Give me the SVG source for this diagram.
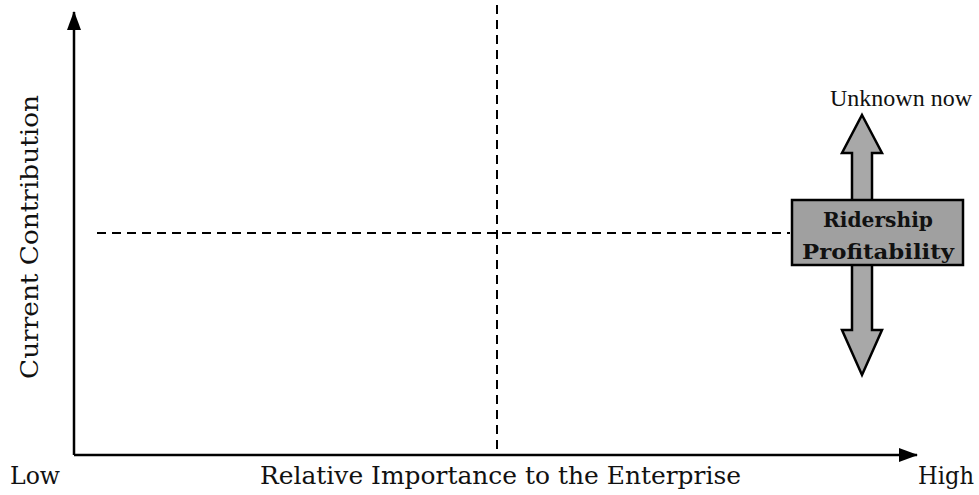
<svg xmlns="http://www.w3.org/2000/svg" width="979" height="495" viewBox="0 0 979 495">
<defs>
<style>
.lbl{font-family:"DejaVu Serif","Liberation Serif",serif;font-size:24px;fill:#111}
.box{font-family:"DejaVu Serif","Liberation Serif",serif;font-size:20px;font-weight:bold;fill:#111}
.axis{stroke:#000;stroke-width:2.5;fill:none}
.dash{stroke:#000;stroke-width:2;stroke-dasharray:9,6;fill:none}
</style>
<marker id="ah" markerWidth="20" markerHeight="16" refX="18" refY="8" orient="auto" markerUnits="userSpaceOnUse" viewBox="0 0 20 16">
<path d="M0,1 L19,8 L0,15 Z" fill="#000"/>
</marker>
</defs>
<g id="connectors">
<path class="axis" d="M74,455 L74,12" marker-end="url(#ah)"/>
<path class="axis" d="M74,455 L917,455" marker-end="url(#ah)"/>
<path class="dash" d="M497,5 L497,449"/>
<path class="dash" d="M97,233 L790,233"/>
</g>
<g id="arrow">
<path d="M862,115 L882,153 L872,153 L872,330 L882,330 L862,375 L842,330 L852,330 L852,153 L842,153 Z" fill="#a8a8a8" stroke="#000" stroke-width="2.5" stroke-linejoin="miter"/>
</g>
<g id="node-box">
<rect x="792" y="200" width="171" height="65" fill="#a0a0a0" stroke="#000" stroke-width="2.5"/>
<text class="box" x="878" y="227" text-anchor="middle" textLength="110" lengthAdjust="spacingAndGlyphs">Ridership</text>
<text class="box" x="878" y="259" text-anchor="middle" textLength="152" lengthAdjust="spacingAndGlyphs">Profitability</text>
</g>
<g id="labels">
<text x="972" y="106" font-family="Liberation Serif, serif" font-size="24" fill="#111" text-anchor="end">Unknown now</text>
<text class="lbl" transform="translate(38,237) rotate(-90)" text-anchor="middle" textLength="284" lengthAdjust="spacingAndGlyphs">Current Contribution</text>
<text class="lbl" x="10" y="484" textLength="50" lengthAdjust="spacingAndGlyphs">Low</text>
<text class="lbl" x="260" y="484" textLength="481" lengthAdjust="spacingAndGlyphs">Relative Importance to the Enterprise</text>
<text class="lbl" x="918" y="484" textLength="56" lengthAdjust="spacingAndGlyphs">High</text>
</g>
</svg>
